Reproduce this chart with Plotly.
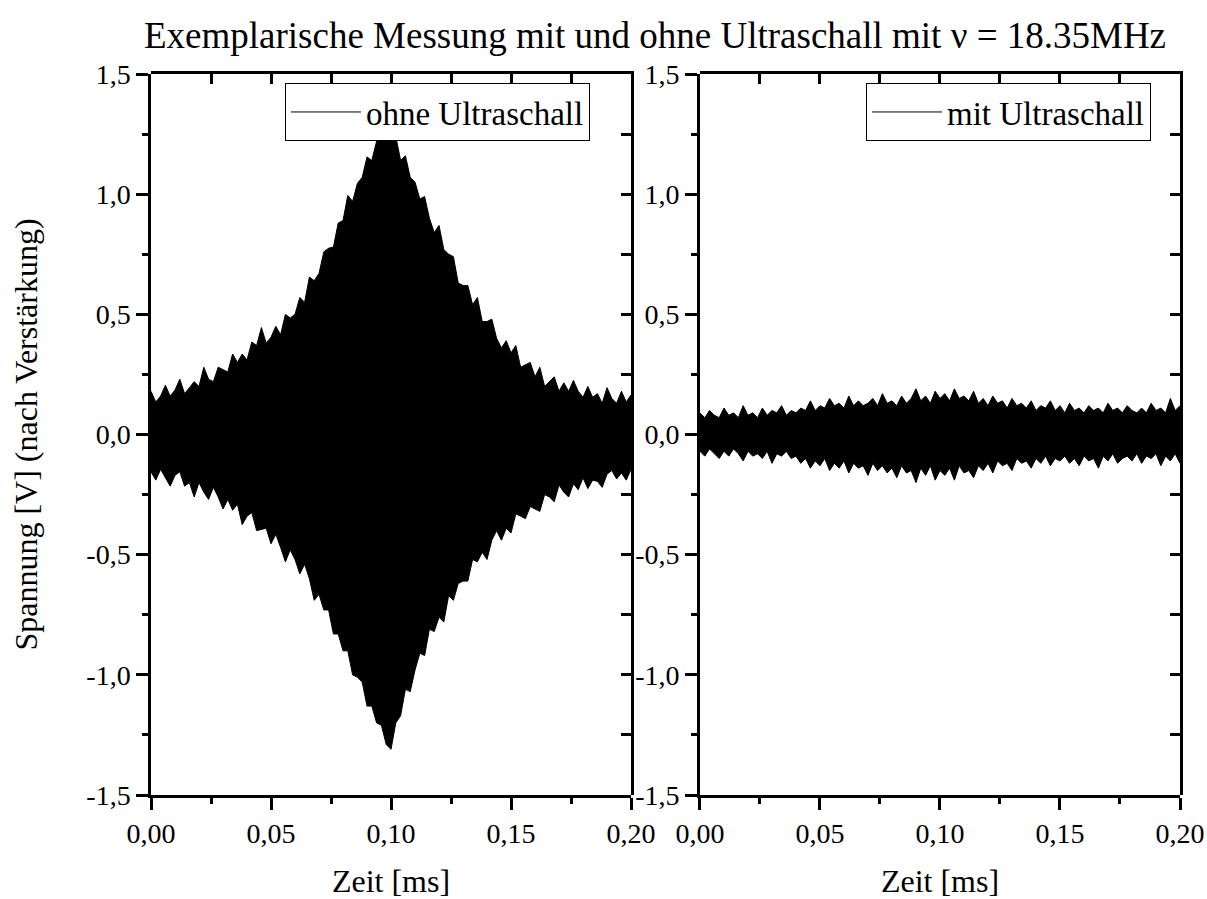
import plotly.graph_objects as go

# Zeitachse [ms]
zeit = [0.000, 0.002, 0.004, 0.006, 0.008, 0.010, 0.012, 0.014, 0.016, 0.018,
        0.020, 0.022, 0.024, 0.026, 0.028, 0.030, 0.032, 0.034, 0.036, 0.038,
        0.040, 0.042, 0.044, 0.046, 0.048, 0.050, 0.052, 0.054, 0.056, 0.058,
        0.060, 0.062, 0.064, 0.066, 0.068, 0.070, 0.072, 0.074, 0.076, 0.078,
        0.080, 0.082, 0.084, 0.086, 0.088, 0.090, 0.092, 0.094, 0.096, 0.098,
        0.100, 0.102, 0.104, 0.106, 0.108, 0.110, 0.112, 0.114, 0.116, 0.118,
        0.120, 0.122, 0.124, 0.126, 0.128, 0.130, 0.132, 0.134, 0.136, 0.138,
        0.140, 0.142, 0.144, 0.146, 0.148, 0.150, 0.152, 0.154, 0.156, 0.158,
        0.160, 0.162, 0.164, 0.166, 0.168, 0.170, 0.172, 0.174, 0.176, 0.178,
        0.180, 0.182, 0.184, 0.186, 0.188, 0.190, 0.192, 0.194, 0.196, 0.198,
        0.200]

# ohne Ultraschall: obere / untere Einhuellende [V]
ohne_oben = [0.18, 0.135, 0.16, 0.205, 0.16, 0.185, 0.23, 0.17, 0.195, 0.22,
             0.20, 0.28, 0.23, 0.22, 0.28, 0.27, 0.26, 0.335, 0.30, 0.335,
             0.31, 0.385, 0.37, 0.445, 0.38, 0.405, 0.45, 0.415, 0.50, 0.485,
             0.50, 0.57, 0.55, 0.655, 0.64, 0.67, 0.76, 0.775, 0.78, 0.88,
             0.89, 0.995, 0.97, 1.045, 1.07, 1.155, 1.14, 1.22, 1.23, 1.29,
             1.30, 1.24, 1.14, 1.16, 1.07, 1.05, 0.98, 0.99, 0.90, 0.84,
             0.87, 0.77, 0.75, 0.74, 0.63, 0.62, 0.62, 0.54, 0.57, 0.47,
             0.47, 0.48, 0.40, 0.36, 0.39, 0.34, 0.37, 0.28, 0.29, 0.30,
             0.24, 0.28, 0.20, 0.22, 0.24, 0.18, 0.215, 0.18, 0.225, 0.18,
             0.155, 0.20, 0.155, 0.17, 0.13, 0.195, 0.15, 0.13, 0.18, 0.135,
             0.165]
ohne_unten = [-0.155, -0.19, -0.145, -0.18, -0.215, -0.17, -0.155, -0.215, -0.20, -0.26,
              -0.20, -0.24, -0.27, -0.22, -0.26, -0.31, -0.27, -0.315, -0.29, -0.375,
              -0.34, -0.325, -0.40, -0.395, -0.39, -0.455, -0.415, -0.47, -0.53, -0.48,
              -0.52, -0.58, -0.54, -0.60, -0.69, -0.665, -0.73, -0.73, -0.83, -0.83,
              -0.90, -0.90, -1.00, -1.01, -1.03, -1.13, -1.13, -1.20, -1.21, -1.29,
              -1.31, -1.20, -1.17, -1.06, -1.07, -0.98, -0.91, -0.92, -0.81, -0.82,
              -0.76, -0.78, -0.67, -0.69, -0.62, -0.61, -0.61, -0.52, -0.53, -0.49,
              -0.52, -0.44, -0.40, -0.44, -0.39, -0.41, -0.33, -0.34, -0.35, -0.30,
              -0.31, -0.32, -0.25, -0.26, -0.28, -0.21, -0.24, -0.26, -0.205, -0.23,
              -0.18, -0.225, -0.19, -0.195, -0.22, -0.165, -0.15, -0.185, -0.16, -0.19,
              -0.145]

# mit Ultraschall: obere / untere Einhuellende [V]
mit_oben = [0.09, 0.07, 0.10, 0.08, 0.07, 0.11, 0.08, 0.09, 0.07, 0.12,
            0.08, 0.09, 0.07, 0.11, 0.08, 0.10, 0.09, 0.12, 0.08, 0.10,
            0.09, 0.11, 0.10, 0.14, 0.10, 0.12, 0.11, 0.15, 0.12, 0.13,
            0.11, 0.16, 0.12, 0.14, 0.12, 0.13, 0.15, 0.12, 0.17, 0.13,
            0.14, 0.12, 0.16, 0.13, 0.15, 0.19, 0.14, 0.16, 0.13, 0.18,
            0.15, 0.17, 0.14, 0.19, 0.15, 0.16, 0.14, 0.18, 0.13, 0.15,
            0.12, 0.16, 0.13, 0.14, 0.11, 0.15, 0.12, 0.13, 0.11, 0.14,
            0.10, 0.12, 0.11, 0.14, 0.10, 0.12, 0.09, 0.13, 0.10, 0.11,
            0.09, 0.12, 0.10, 0.11, 0.09, 0.13, 0.10, 0.11, 0.09, 0.12,
            0.10, 0.09, 0.11, 0.09, 0.13, 0.10, 0.11, 0.09, 0.15, 0.10,
            0.12]
mit_unten = [-0.07, -0.09, -0.06, -0.08, -0.10, -0.07, -0.09, -0.06, -0.08, -0.11,
             -0.07, -0.09, -0.08, -0.10, -0.07, -0.12, -0.08, -0.09, -0.07, -0.10,
             -0.09, -0.12, -0.10, -0.14, -0.11, -0.13, -0.10, -0.15, -0.12, -0.14,
             -0.11, -0.16, -0.12, -0.14, -0.13, -0.17, -0.12, -0.15, -0.13, -0.16,
             -0.14, -0.18, -0.13, -0.16, -0.15, -0.20, -0.14, -0.17, -0.13, -0.19,
             -0.15, -0.17, -0.14, -0.19, -0.13, -0.16, -0.15, -0.18, -0.13, -0.15,
             -0.12, -0.16, -0.11, -0.13, -0.12, -0.15, -0.10, -0.12, -0.11, -0.14,
             -0.10, -0.12, -0.09, -0.13, -0.10, -0.11, -0.09, -0.12, -0.10, -0.13,
             -0.09, -0.11, -0.10, -0.14, -0.09, -0.11, -0.08, -0.12, -0.10, -0.09,
             -0.11, -0.08, -0.12, -0.09, -0.10, -0.08, -0.13, -0.09, -0.11, -0.08,
             -0.12]

# Achsenbeschriftung
x_ticks = [0.0, 0.05, 0.10, 0.15, 0.20]
x_labels = ['0,00', '0,05', '0,10', '0,15', '0,20']
x_minor = [0.025, 0.075, 0.125, 0.175]
y_ticks = [-1.5, -1.0, -0.5, 0.0, 0.5, 1.0, 1.5]
y_labels = ['-1,5', '-1,0', '-0,5', '0,0', '0,5', '1,0', '1,5']
y_minor = [-1.25, -0.75, -0.25, 0.25, 0.75, 1.25]

schrift = 'Liberation Serif, Times New Roman, serif'
linie = dict(color='black', width=1)

fig = go.Figure()
fig.add_trace(go.Scatter(x=zeit, y=ohne_oben, name='ohne Ultraschall', mode='lines',
                         line=linie, legend='legend', xaxis='x', yaxis='y'))
fig.add_trace(go.Scatter(x=zeit, y=ohne_unten, mode='lines', fill='tonexty', fillcolor='black',
                         line=linie, showlegend=False, xaxis='x', yaxis='y'))
fig.add_trace(go.Scatter(x=zeit, y=mit_oben, name='mit Ultraschall', mode='lines',
                         line=linie, legend='legend2', xaxis='x2', yaxis='y2'))
fig.add_trace(go.Scatter(x=zeit, y=mit_unten, mode='lines', fill='tonexty', fillcolor='black',
                         line=linie, showlegend=False, xaxis='x2', yaxis='y2'))
# leere Spuren fuer die Rahmenachsen oben / rechts (deckungsgleiche Subplots)
for xa, ya in [('x3', 'y3'), ('x4', 'y4')]:
    fig.add_trace(go.Scatter(x=[None], y=[None], mode='lines', showlegend=False,
                             hoverinfo='skip', xaxis=xa, yaxis=ya))

achse = dict(showline=True, linecolor='black', linewidth=2.5, showgrid=False, zeroline=False,
             tickcolor='black', tickwidth=2.5, automargin=False)
x_achse = dict(achse, range=[0, 0.2], tickmode='array', tickvals=x_ticks, ticktext=x_labels,
               ticks='outside', ticklen=12, tickfont=dict(size=28, family=schrift),
               minor=dict(ticks='outside', tickmode='array', tickvals=x_minor, ticklen=6,
                          tickwidth=2.5, tickcolor='black'),
               title=dict(text='Zeit [ms]', font=dict(size=32, family=schrift), standoff=26))
y_achse = dict(achse, range=[-1.5, 1.5], tickmode='array', tickvals=y_ticks, ticktext=y_labels,
               ticks='outside', ticklen=12, tickfont=dict(size=28, family=schrift),
               minor=dict(ticks='outside', tickmode='array', tickvals=y_minor, ticklen=6,
                          tickwidth=2.5, tickcolor='black'))

# Rahmen oben / rechts: Striche nach innen
x_oben = dict(showline=True, linecolor='black', linewidth=2.5, showgrid=False, zeroline=False,
              range=[0, 0.2], side='top', ticks='inside', ticklen=10, tickwidth=3,
              tickcolor='black', tickmode='array', tickvals=sorted(x_ticks + x_minor),
              showticklabels=False)
y_rechts = dict(showline=True, linecolor='black', linewidth=2.5, showgrid=False, zeroline=False,
                range=[-1.5, 1.5], side='right', ticks='inside', ticklen=10, tickwidth=3,
                tickcolor='black', tickmode='array', tickvals=sorted(y_ticks + y_minor),
                showticklabels=False)

links = [0, 0.4665]
rechts = [0.5335, 1]

legende = dict(xanchor='right', y=0.9875, yanchor='top', bgcolor='white', bordercolor='black',
               borderwidth=1, font=dict(size=33, color='black', family=schrift), itemwidth=70)

fig.update_layout(
    width=1207, height=899,
    margin=dict(l=151, r=27, t=74, b=104, autoexpand=False),
    plot_bgcolor='rgba(0,0,0,0)', paper_bgcolor='white',
    font=dict(family=schrift, color='black'),
    title=dict(text='Exemplarische Messung mit und ohne Ultraschall mit \u03bd = 18.35MHz',
               x=0.5427, xanchor='center', y=0.961, yanchor='middle',
               font=dict(size=37, family=schrift)),
    xaxis=dict(x_achse, domain=links, anchor='y'),
    xaxis2=dict(x_achse, domain=rechts, anchor='y2'),
    yaxis=dict(y_achse, domain=[0, 1], anchor='x',
               title=dict(text='Spannung [V] (nach Verst\u00e4rkung)',
                          font=dict(size=32, family=schrift), standoff=40)),
    yaxis2=dict(y_achse, domain=[0, 1], anchor='x2'),
    xaxis3=dict(x_oben, domain=links, anchor='y3'),
    yaxis3=dict(y_rechts, domain=[0, 1], anchor='x3'),
    xaxis4=dict(x_oben, domain=rechts, anchor='y4'),
    yaxis4=dict(y_rechts, domain=[0, 1], anchor='x4'),
    legend=dict(legende, x=0.4266),
    legend2=dict(legende, x=0.9718),
)

# Seitenrand des Browsers entfernen, damit die Grafik bei (0, 0) beginnt
fig.write_html('out.html', config={'displayModeBar': False},
               post_script="document.body.style.margin = '0px';")
